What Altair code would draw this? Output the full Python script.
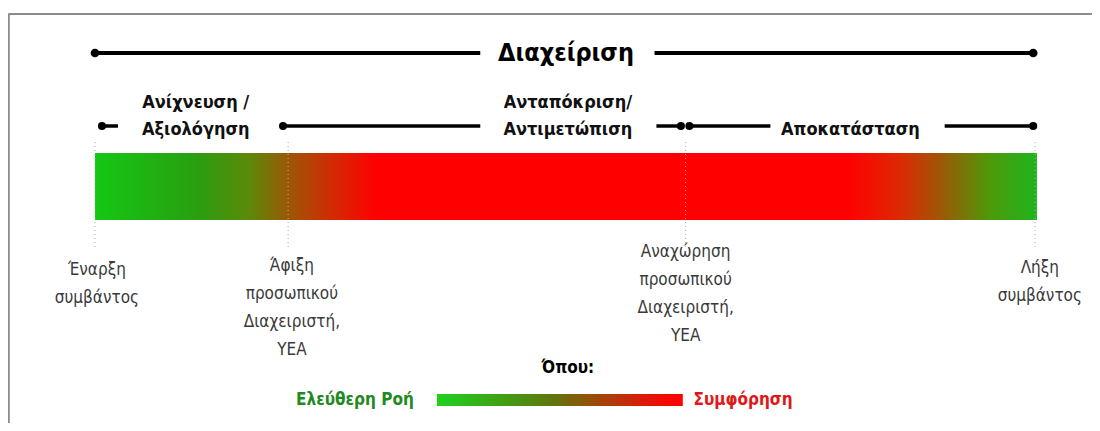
import altair as alt
import pandas as pd

# ---------------- data (timeline in % of incident duration) ----------------
event_t = [0.2, 20.9, 62.7, 100.3]
event_lines = [
    ["Έναρξη", "συμβάντος"],
    ["Άφιξη", "προσωπικού", "Διαχειριστή,", "ΥΕΑ"],
    ["Αναχώρηση", "προσωπικού", "Διαχειριστή,", "ΥΕΑ"],
    ["Λήξη", "συμβάντος"],
]
marker_t = [0, 20.5, 62.7, 99.8]

title_text = "Διαχείριση"
title_t = 50.0
title_seg_start = [0.0, 59.4]
title_seg_end = [40.9, 99.6]
title_dots = [0.0, 99.6]

phase_lines = [["Ανίχνευση /", "Αξιολόγηση"], ["Ανταπόκριση/", "Αντιμετώπιση"], ["Αποκατάσταση"]]
phase_t = [10.7, 50.2, 80.2]
phase_seg_start = [0.74, 19.96, 59.6, 63.1, 90.2]
phase_seg_end = [2.44, 40.9, 62.2, 71.7, 99.6]
phase_dots = [0.74, 19.96, 62.2, 63.1, 99.6]

bar_start, bar_end = 0, 100
bar_stop_offsets = [0.0, 0.11, 0.165, 0.205, 0.25, 0.30, 0.80, 0.855, 0.90, 0.95, 1.0]
bar_stop_colors = ["#14c814", "#2a9e10", "#5e8808", "#9a5806", "#d02c04", "#ff0000",
                   "#ff0000", "#dc2a04", "#9a5a06", "#4e9a0a", "#1eb41e"]

legend_title = "Όπου:"
legend_left = "Ελεύθερη Ροή"
legend_right = "Συμφόρηση"
legend_title_t = 50.2
legend_left_t = 27.6
legend_right_t = 68.8
legend_bar = [36.3, 62.4]
legend_stop_offsets = [0.0, 0.45, 0.65, 0.85, 1.0]
legend_stop_colors = ["#1ed21e", "#5a7a10", "#9a4a0a", "#e01808", "#ff0000"]

# ---------------- layout (vertical rows, px from page top) ----------------
Y_TITLE = 53
Y_PHASE = 126
Y_PHASE_L1 = 103
Y_PHASE_L2 = 130
Y_BAR = (153, 220)
Y_MARK = (142, 250)
LINE_H = 28
EVENT_TOP = [270, 266, 252, 268]
Y_LEG_TITLE = 368
Y_LEG = 400
FONT = "Liberation Sans Narrow, DejaVu Sans Condensed, Arial Narrow, sans-serif"

W, H = 1084, 415
x_scale = alt.Scale(domain=[-9.235, 105.84], nice=False, zero=False)
y_scale = alt.Scale(domain=[8, 423], reverse=True, nice=False, zero=False)
X = lambda f: alt.X(f, type="quantitative", scale=x_scale, axis=None)
Y = lambda f: alt.Y(f, type="quantitative", scale=y_scale, axis=None)

layers = []

# frame (top and left)
frame = pd.DataFrame({"x": [-9.2, -9.15], "x2": [106, -9.15], "y": [14, 14], "y2": [14, 431]})
layers.append(alt.Chart(frame).mark_rule(color="#8c8c8c", strokeWidth=2, clip=False).encode(
    x=X("x"), x2="x2", y=Y("y"), y2="y2"))

# gradient bar
bar = pd.DataFrame({"x": [bar_start], "x2": [bar_end], "y": [Y_BAR[0]], "y2": [Y_BAR[1]]})
grad = alt.LinearGradient(gradient="linear", x1=0, x2=1, y1=0, y2=0,
                          stops=[alt.GradientStop(color=c, offset=o) for o, c in zip(bar_stop_offsets, bar_stop_colors)])
layers.append(alt.Chart(bar).mark_rect(color=grad).encode(x=X("x"), x2="x2", y=Y("y"), y2="y2"))

# dotted markers
mk = pd.DataFrame({"x": marker_t, "y": [Y_MARK[0]] * 4, "y2": [Y_MARK[1]] * 4})
layers.append(alt.Chart(mk).mark_rule(color="#b0b0b0", strokeWidth=1, strokeDash=[1, 3]).encode(
    x=X("x"), y=Y("y"), y2="y2"))

# title line
tl = pd.DataFrame({"x": title_seg_start, "x2": title_seg_end, "y": [Y_TITLE] * 2})
layers.append(alt.Chart(tl).mark_rule(color="black", strokeWidth=4).encode(x=X("x"), x2="x2", y=Y("y")))
td = pd.DataFrame({"x": title_dots, "y": [Y_TITLE] * 2})
layers.append(alt.Chart(td).mark_point(filled=True, color="black", size=75, opacity=1).encode(x=X("x"), y=Y("y")))
tt = pd.DataFrame({"x": [title_t], "y": [Y_TITLE], "t": [title_text]})
layers.append(alt.Chart(tt).mark_text(font=FONT, fontSize=25, fontWeight="bold", color="black",
                                      baseline="middle", align="center").encode(x=X("x"), y=Y("y"), text="t:N"))

# phase lines
pl = pd.DataFrame({"x": phase_seg_start, "x2": phase_seg_end, "y": [Y_PHASE] * len(phase_seg_start)})
layers.append(alt.Chart(pl).mark_rule(color="black", strokeWidth=3.5).encode(x=X("x"), x2="x2", y=Y("y")))
pd_ = pd.DataFrame({"x": phase_dots, "y": [Y_PHASE] * len(phase_dots)})
layers.append(alt.Chart(pd_).mark_point(filled=True, color="black", size=65, opacity=1).encode(x=X("x"), y=Y("y")))
rows = []
for t, lines in zip(phase_t, phase_lines):
    ys = [Y_PHASE_L1, Y_PHASE_L2] if len(lines) == 2 else [Y_PHASE_L2]
    for s, y in zip(lines, ys):
        rows.append({"x": t, "y": y, "t": s})
layers.append(alt.Chart(pd.DataFrame(rows)).mark_text(font=FONT, fontSize=18, fontWeight="bold", color="#111",
                                                       baseline="middle", align="center").encode(
    x=X("x"), y=Y("y"), text="t:N"))

# event labels
rows = []
for t, lines, top in zip(event_t, event_lines, EVENT_TOP):
    for i, s in enumerate(lines):
        rows.append({"x": t, "y": top + i * LINE_H, "t": s})
layers.append(alt.Chart(pd.DataFrame(rows)).mark_text(font=FONT, fontSize=17, color="#3a3a3a",
                                                       baseline="middle", align="center").encode(
    x=X("x"), y=Y("y"), text="t:N"))

# legend
lt = pd.DataFrame({"x": [legend_title_t], "y": [Y_LEG_TITLE], "t": [legend_title]})
layers.append(alt.Chart(lt).mark_text(font=FONT, fontSize=17, fontWeight="bold", color="black",
                                      baseline="middle", align="center").encode(x=X("x"), y=Y("y"), text="t:N"))
ll = pd.DataFrame({"x": [legend_left_t], "y": [Y_LEG], "t": [legend_left]})
layers.append(alt.Chart(ll).mark_text(font=FONT, fontSize=17, fontWeight="bold", color="#1f8a1f",
                                      baseline="middle", align="center").encode(x=X("x"), y=Y("y"), text="t:N"))
lr = pd.DataFrame({"x": [legend_right_t], "y": [Y_LEG], "t": [legend_right]})
layers.append(alt.Chart(lr).mark_text(font=FONT, fontSize=17, fontWeight="bold", color="#e01818",
                                      baseline="middle", align="center").encode(x=X("x"), y=Y("y"), text="t:N"))
lg = pd.DataFrame({"x": [legend_bar[0]], "x2": [legend_bar[1]], "y": [Y_LEG - 6], "y2": [Y_LEG + 6]})
lgrad = alt.LinearGradient(gradient="linear", x1=0, x2=1, y1=0, y2=0,
                           stops=[alt.GradientStop(color=c, offset=o) for o, c in zip(legend_stop_offsets, legend_stop_colors)])
layers.append(alt.Chart(lg).mark_rect(color=lgrad).encode(x=X("x"), x2="x2", y=Y("y"), y2="y2"))

chart = alt.layer(*layers).properties(
    width=W, height=H, padding=0, autosize=alt.AutoSizeParams(type="none"), background="white"
).configure_view(stroke=None)

chart.save("out.html", embed_options={"renderer": "svg", "actions": False})
